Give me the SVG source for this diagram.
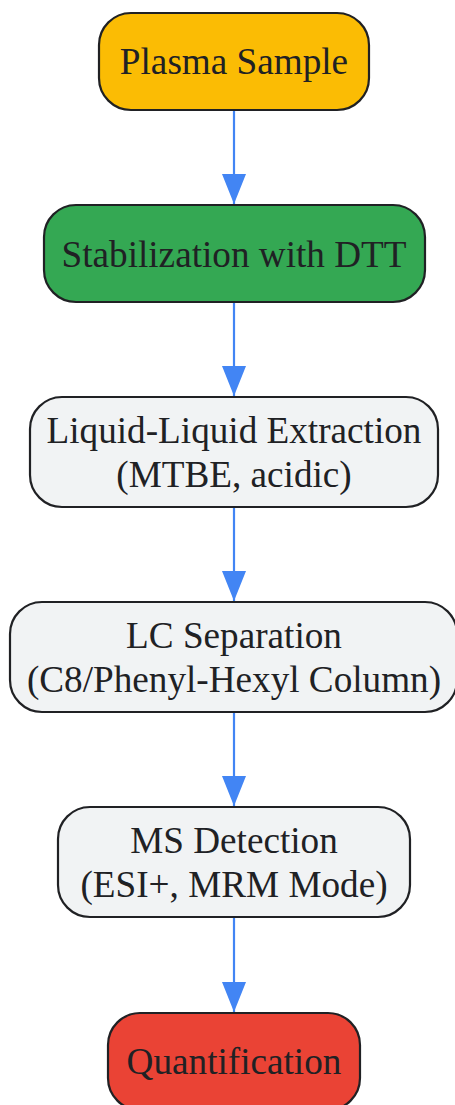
<svg xmlns="http://www.w3.org/2000/svg" width="455" height="1105" viewBox="0 0 455 1105">
<style>
.box{stroke:#202124;stroke-width:2.2}
.t{font-family:"Liberation Serif","Times New Roman",serif;font-size:37.2px;fill:#202124;text-anchor:middle}
.edge{stroke:#4285F4;stroke-width:2.2;fill:none}
</style>
<defs>
<marker id="ah" markerUnits="userSpaceOnUse" markerWidth="32" markerHeight="26" refX="30" refY="12" orient="auto">
<path d="M0,0 L30,12 L0,24 Z" fill="#4285F4"/>
</marker>
</defs>
<rect width="455" height="1105" fill="#ffffff"/>
<g id="connectors">
<line class="edge" x1="234" y1="110" x2="234" y2="204" marker-end="url(#ah)"/>
<line class="edge" x1="234" y1="302" x2="234" y2="396" marker-end="url(#ah)"/>
<line class="edge" x1="234" y1="507" x2="234" y2="601" marker-end="url(#ah)"/>
<line class="edge" x1="234" y1="712" x2="234" y2="806" marker-end="url(#ah)"/>
<line class="edge" x1="234" y1="917" x2="234" y2="1012" marker-end="url(#ah)"/>
</g>
<g id="plasma">
<rect class="box" x="99" y="13" width="270" height="97" rx="32" fill="#FBBC04"/>
<text class="t" x="234" y="74">Plasma Sample</text>
</g>
<g id="stabilization">
<rect class="box" x="44" y="205" width="381" height="97" rx="32" fill="#34A853"/>
<text class="t" x="234" y="267">Stabilization with DTT</text>
</g>
<g id="lle">
<rect class="box" x="30" y="397" width="408" height="110" rx="32" fill="#F1F3F4"/>
<text class="t" x="234" y="443">Liquid-Liquid Extraction</text>
<text class="t" x="234" y="487">(MTBE, acidic)</text>
</g>
<g id="lc">
<rect class="box" x="10" y="602" width="447" height="110" rx="32" fill="#F1F3F4"/>
<text class="t" x="234" y="648">LC Separation</text>
<text class="t" x="234" y="692">(C8/Phenyl-Hexyl Column)</text>
</g>
<g id="ms">
<rect class="box" x="58" y="807" width="352" height="110" rx="32" fill="#F1F3F4"/>
<text class="t" x="234" y="853">MS Detection</text>
<text class="t" x="234" y="897">(ESI+, MRM Mode)</text>
</g>
<g id="quant">
<rect class="box" x="108" y="1013" width="252" height="97" rx="32" fill="#EA4335"/>
<text class="t" x="234" y="1074">Quantification</text>
</g>
</svg>
